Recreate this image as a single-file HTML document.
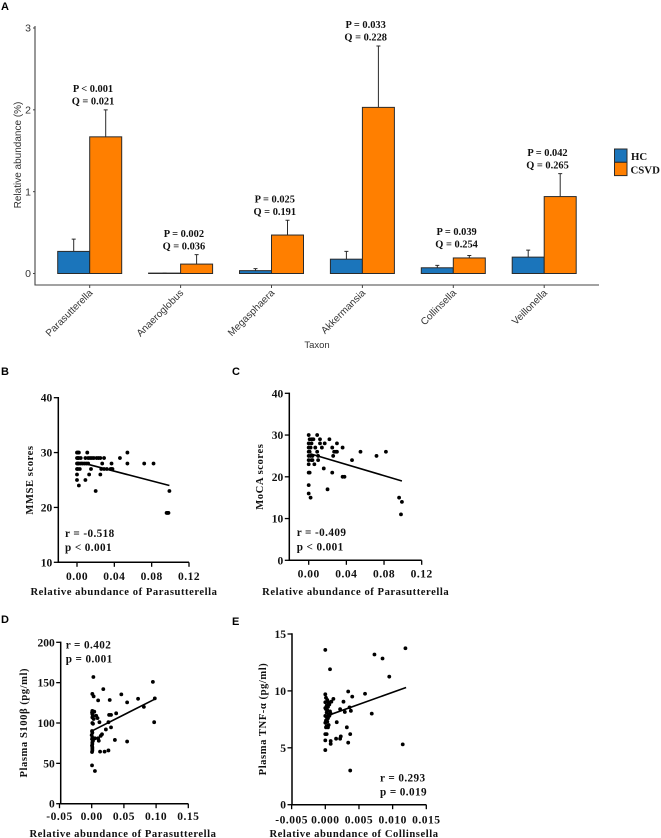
<!DOCTYPE html>
<html lang="en">
<head>
<meta charset="utf-8">
<title>Relative abundance of taxa and clinical correlations</title>
<style>
html,body{margin:0;padding:0;background:#fff;}
svg{display:block;position:absolute;left:0;top:0;filter:blur(0.35px);}
.sans{font-family:"Liberation Sans",sans-serif;}
.serif{font-family:"Liberation Serif",serif;font-weight:bold;}
</style>
</head>
<body>
<svg id="figure" xmlns="http://www.w3.org/2000/svg" width="661" height="838" viewBox="0 0 661 838"></svg>
<script>
// ---------- Panel A data ----------
const taxa = ['Parasutterella','Anaeroglobus','Megasphaera','Akkermansia','Collinsella','Veillonella'];
const hcValues = [0.27,0.005,0.035,0.175,0.07,0.2];
const hcErrorTops = [0.42,0.005,0.06,0.27,0.10,0.285];
const csvdValues = [1.67,0.115,0.47,2.03,0.19,0.94];
const csvdErrorTops = [2.0,0.23,0.65,2.78,0.22,1.22];
const pLabels = ['P < 0.001','P = 0.002','P = 0.025','P = 0.033','P = 0.039','P = 0.042'];
const qLabels = ['Q = 0.021','Q = 0.036','Q = 0.191','Q = 0.228','Q = 0.254','Q = 0.265'];
const abundanceTicks = [0,1,2,3];

// ---------- Panel B data ----------
const bX = [0,.001,.002,.011,.054, 0,.001,.002,.004,.009,.012,.014,.016,.018,.021,.023,.025,.029,.046, 0,.001,.002,.004,.006,.008,.010,.012,.027,.037,.054,.072,.082, 0,.001,.003,.015,.026,.029,.032,.036,.037,.038, 0,.013,.025, 0,.009, .002, .020,.099, .096,.097,.098];
const bY = [30,30,30,30,30, 29,29,29,29,29,29,29,29,29,29,29,29,29,29, 28,28,28,28,28,28,28,28,28,28,28,28,28, 27,27,27,27,27,27,27,27,27,27, 26,26,26, 25,25, 24, 23,23, 19,19,19];
const bLineX = [0.004,0.099];
const bLineY = [28.2,24];
const bXTicks = ['0.00','0.04','0.08','0.12'];
const bYTicks = [10,20,30,40];

// ---------- Panel C data ----------
const cX = [0,.009, .001,.003,.004,.005,.012,.022, 0,.003,.012,.017,.030, 0,.002,.007,.014,.025,.036, 0,.001,.009,.027,.029,.030,.055,.082, 0,.002,.004,.010,.026,.072, 0,.003,.004,.010,.046, 0,.006, .016, 0,.001,.025, .036,.038, 0, .020, 0, .002,.096, .099, .098];
const cY = [30,30, 29,29,29,29,29,29, 28,28,28,28,28, 27,27,27,27,27,27, 26,26,26,26,26,26,26,26, 25,25,25,25,25,25, 24,24,24,24,24, 23,23, 22, 21,21,21, 20,20, 18, 17, 16, 15,15, 14, 11];
const cLineX = [0.002,0.099];
const cLineY = [25.5,19];
const cXTicks = ['0.00','0.04','0.08','0.12'];
const cYTicks = [0,10,20,30,40];

// ---------- Panel D data ----------
const dX = [.0026,.001,.003,.018,.010,.028,.046,.055,.072,.081,.095,.098,.097,.055,.036,.030,.022,.026,.027,.030,.038,.012,.009,.007,.004,.001,.0005,.001,.002,.001,.003,.001,.002, .0005,.001,0,.001,.0005,.002,.001,.001,.0005,.001,.001,.001,.0005,.005,.010,.011,.014,.016,.013,.020,.026,.0005,.005];
const dY = [157,136,133,142,128,128.5,135.5,125.6,130,120,151,130.5,101,77,79,94.6,92,101,110,110,112,101,106,109,114,115,113,111,109,107,105,100,99, 90,88,85,82,80,78,76,74,72,70,68,66,64,81,81,78,84,86,64.5,64.5,66,47.5,40.5];
const dLineX = [0,0.099];
const dLineY = [90,130];
const dXTicks = ['-0.05','0.00','0.05','0.10','0.15'];
const dYTicks = [0,50,100,150,200];

// ---------- Panel E data ----------
const eX = [0,.0007,.0073,.0085,.0095,.0119,.0115,.0037,0,.0034,.0059,.0069,.004,.0027,.0036,.0038,.0029,.0022,.0017,.0032,.0037,.0034,.0023,.0022,.0016,.0008,.0008,0,0,.0002,.0012,.0009,.0005,0,.0001,.0003,.0005,.0006,.0002,.0004,0,.0001,.0003,.0007,.0008,.0005,0,.0002,.0004,.0006,.0001,.0003,0,.0002,.0005,.0004,.0001,0,.0002];
const eY = [13.6,11.9,13.2,12.85,11.25,13.75,5.3,3.0,4.8,9.95,9.75,8.0,9.5,9.05,8.55,8.25,8.15,8.4,7.25,6.8,6.2,5.45,6.0,5.8,5.8,5.6,5.35,5.65,6.2,6.2,9.3,9.05,9,9.7,9.4,9.2,8.9,8.8,8.7,8.6,8.5,8.4,8.3,8.2,8.0,7.9,7.8,7.7,7.6,7.8,7.4,7.3,7.2,6.9,7.0,6.8,6.8,9.0,8.1];
const eLineX = [0.0002,0.012];
const eLineY = [7.8,10.3];
const eXTicks = ['-0.005','0.000','0.005','0.010','0.015'];
const eYTicks = [0,5,10,15];

// ---------- helpers ----------
const svg = document.getElementById('figure');
const NS = 'http://www.w3.org/2000/svg';
function mk(tag, attrs, parent, txt){
  const e = document.createElementNS(NS, tag);
  for (const k in attrs) e.setAttribute(k, attrs[k]);
  if (txt !== undefined) e.textContent = txt;
  (parent || svg).appendChild(e);
  return e;
}
function lin(d0,d1,r0,r1){ return v => r0 + (v-d0)*(r1-r0)/(d1-d0); }
function letter(ch,x,y,name){
  const t = mk('text',{x:x,y:y,class:'sans','font-size':11,'font-weight':'bold',fill:'#000'},svg,ch);
  
  
}

// ---------- Panel A ----------
(function(){
  const g = mk('g',{});
  
  
  const y = lin(0,3,273.5,28);
  const slot0 = 89.7, slotW = 90.9, barW = 32;
  const x = i => slot0 + i*slotW;
  const ink = '#2b2b2b';

  const yAxis = mk('line',{x1:35,x2:35,y1:26,y2:285.5,stroke:'#444','stroke-width':1.1},g);
  
  
  const xAxis = mk('line',{x1:34.5,x2:599,y1:285,y2:285,stroke:'#444','stroke-width':1.1},g);
  
  

  abundanceTicks.forEach(v=>{
    const tk = mk('line',{x1:33,x2:35,y1:y(v),y2:y(v),stroke:'#444','stroke-width':1},g);
    
    
    const lb = mk('text',{x:31,y:y(v)+3.6,'text-anchor':'end',class:'sans','font-size':10.5,fill:'#333'},g,v);
    
    
  });

  taxa.forEach((name,i)=>{
    const cx = x(i);
    const tk = mk('line',{x1:cx,x2:cx,y1:285,y2:288,stroke:'#444','stroke-width':1},g);
    
    
    const lb = mk('text',{transform:`translate(${cx+3.5},${293.5}) rotate(-45)`,'text-anchor':'end',class:'sans','font-size':10,fill:'#333'},g,name);
    
    

    const hcTop = y(hcValues[i]), csTop = y(csvdValues[i]);
    const hcErrX = cx-16, csErrX = cx+16;

    const e1 = mk('path',{d:`M${hcErrX} ${hcTop}V${y(hcErrorTops[i])}M${hcErrX-2} ${y(hcErrorTops[i])}H${hcErrX+2}`,stroke:ink,'stroke-width':1,fill:'none'},g);
    
    
    const e2 = mk('path',{d:`M${csErrX} ${csTop}V${y(csvdErrorTops[i])}M${csErrX-2} ${y(csvdErrorTops[i])}H${csErrX+2}`,stroke:ink,'stroke-width':1,fill:'none'},g);
    
    

    const b1 = mk('rect',{x:cx-barW,y:hcTop,width:barW,height:Math.max(y(0)-hcTop,0.1),fill:'#1b75bb',stroke:ink,'stroke-width':1},g);
    
    
    const b2 = mk('rect',{x:cx,y:csTop,width:barW,height:y(0)-csTop,fill:'#ff7f00',stroke:ink,'stroke-width':1},g);
    
    

    const top = Math.max(csvdErrorTops[i], i===4 ? csvdErrorTops[i]+0.03 : 0);
    const qBase = y(top)-5.3;
    const tx = cx+3.3;
    const p = mk('text',{x:tx,y:qBase-12.5,'text-anchor':'middle',class:'serif','font-size':10.4,fill:'#111'},g,pLabels[i]);
    
    
    const q = mk('text',{x:tx,y:qBase,'text-anchor':'middle',class:'serif','font-size':10.4,fill:'#111'},g,qLabels[i]);
    
    
  });

  const yt = mk('text',{transform:'translate(21,155) rotate(-90)','text-anchor':'middle',class:'sans','font-size':10,fill:'#333'},g,'Relative abundance (%)');
  
  
  const xt = mk('text',{x:317,y:348,'text-anchor':'middle',class:'sans','font-size':9.5,fill:'#333'},g,'Taxon');
  
  

  const s1 = mk('rect',{x:614.5,y:149,width:12.5,height:13.3,fill:'#1b75bb',stroke:ink,'stroke-width':1},g);
  
  
  const s2 = mk('rect',{x:614.5,y:162.3,width:12.5,height:13.3,fill:'#ff7f00',stroke:ink,'stroke-width':1},g);
  
  
  const l1 = mk('text',{x:631,y:160,class:'serif','font-size':10.8,fill:'#111'},g,'HC');
  
  
  const l2 = mk('text',{x:630.5,y:173.5,class:'serif','font-size':10.8,fill:'#111'},g,'CSVD');
  
  
})();

// ---------- scatter panels ----------
function scatter(c){
  const g = mk('g',{});
  
  
  const xs = lin(c.xd[0],c.xd[1],c.xr[0],c.xr[1]);
  const ys = lin(c.yd[0],c.yd[1],c.yr[0],c.yr[1]);
  const axX = c.axisX, axY = c.axisY;

  const ya = mk('line',{x1:axX,x2:axX,y1:ys(c.yTicks[c.yTicks.length-1])-0.7,y2:axY+0.7,stroke:'#000','stroke-width':1.5},g);
  
  
  const xa = mk('line',{x1:axX,x2:c.xEnd,y1:axY,y2:axY,stroke:'#000','stroke-width':1.5},g);
  
  

  c.yTicks.forEach(v=>{
    const t = mk('line',{x1:axX-4.5,x2:axX,y1:ys(v),y2:ys(v),stroke:'#000','stroke-width':1.3},g);
    
    
    const l = mk('text',{x:axX-6,y:ys(v)+4,'text-anchor':'end',class:'serif','font-size':c.tickFont,fill:'#111'},g,v);
    
    
  });
  c.xTicks.forEach(s=>{
    const v = parseFloat(s);
    const t = mk('line',{x1:xs(v),x2:xs(v),y1:axY,y2:axY+4.5,stroke:'#000','stroke-width':1.3},g);
    
    
    const l = mk('text',{x:xs(v),y:c.xTickBase,'text-anchor':'middle',class:'serif','font-size':c.tickFont,'letter-spacing':c.tickSpace,fill:'#111'},g,s);
    
    
  });

  c.px.forEach((v,i)=>{
    const d = mk('circle',{cx:xs(v),cy:ys(c.py[i]),r:1.9,fill:'#000'},g);
    
    
  });
  const fit = mk('line',{x1:xs(c.lx[0]),y1:ys(c.ly[0]),x2:xs(c.lx[1]),y2:ys(c.ly[1]),stroke:'#000','stroke-width':1.6},g);
  
  

  const xt = mk('text',{x:c.xTitle[0],y:c.xTitle[1],'text-anchor':'middle',class:'serif','font-size':10.6,'letter-spacing':0.55,fill:'#111'},g,c.xLabel);
  
  
  const yt = mk('text',{transform:`translate(${c.yTitle[0]},${c.yTitle[1]}) rotate(-90)`,'text-anchor':'middle',class:'serif','font-size':10.6,'letter-spacing':0.55,fill:'#111'},g,c.yLabel);
  
  

  const r = mk('text',{x:c.stat[0],y:c.stat[1],class:'serif','font-size':11.2,'letter-spacing':0.4,fill:'#111'},g,c.rText);
  
  
  const p = mk('text',{x:c.stat[0],y:c.stat[2],class:'serif','font-size':11.2,'letter-spacing':0.4,fill:'#111'},g,c.pText);
  
  
}

scatter({px:bX,py:bY,lx:bLineX,ly:bLineY,xTicks:bXTicks,yTicks:bYTicks,
  xd:[0,0.12],xr:[77,189],yd:[10,40],yr:[562.3,397.7],axisX:58.3,axisY:562.3,xEnd:189,
  xTickBase:580,xTitle:[124,595],yTitle:[33,480],stat:[65,537,551],tickFont:11.5,tickSpace:0.5,
  xLabel:'Relative abundance of Parasutterella',yLabel:'MMSE scores',rText:'r = -0.518',pText:'p < 0.001'});
scatter({px:cX,py:cY,lx:cLineX,ly:cLineY,xTicks:cXTicks,yTicks:cYTicks,
  xd:[0,0.12],xr:[308.7,421.7],yd:[0,40],yr:[560.3,393.3],axisX:289.3,axisY:560.3,xEnd:421.7,
  xTickBase:577.5,xTitle:[355.7,595],yTitle:[263,476.7],stat:[296.7,536,550.7],tickFont:11.5,tickSpace:0.5,
  xLabel:'Relative abundance of Parasutterella',yLabel:'MoCA scores',rText:'r = -0.409',pText:'p < 0.001'});
scatter({px:dX,py:dY,lx:dLineX,ly:dLineY,xTicks:dXTicks,yTicks:dYTicks,
  xd:[0,0.15],xr:[91.7,188.3],yd:[0,200],yr:[803.7,642.3],axisX:60.7,axisY:803.7,xEnd:188.3,
  xTickBase:820,xTitle:[123,837],yTitle:[27,722.7],stat:[65.7,648.3,662.3],tickFont:11.5,tickSpace:0.5,
  xLabel:'Relative abundance of Parasutterella',yLabel:'Plasma S100\u03B2 (pg/ml)',rText:'r = 0.402',pText:'p = 0.001'});
scatter({px:eX,py:eY,lx:eLineX,ly:eLineY,xTicks:eXTicks,yTicks:eYTicks,
  xd:[0,0.015],xr:[325.3,426.3],yd:[0,15],yr:[804.7,634],axisX:292,axisY:804.7,xEnd:426.3,
  xTickBase:823.3,xTitle:[354,837],yTitle:[266,719],stat:[380,781.7,795.7],tickFont:11.5,tickSpace:0.5,
  xLabel:'Relative abundance of Collinsella',yLabel:'Plasma TNF-\u03B1 (pg/ml)',rText:'r = 0.293',pText:'p = 0.019'});

letter('A',1,10,'panel-label-a');
letter('B',1,375,'panel-label-b');
letter('C',232,375,'panel-label-c');
letter('D',1,623,'panel-label-d');
letter('E',232,625,'panel-label-e');
</script>
</body>
</html>
